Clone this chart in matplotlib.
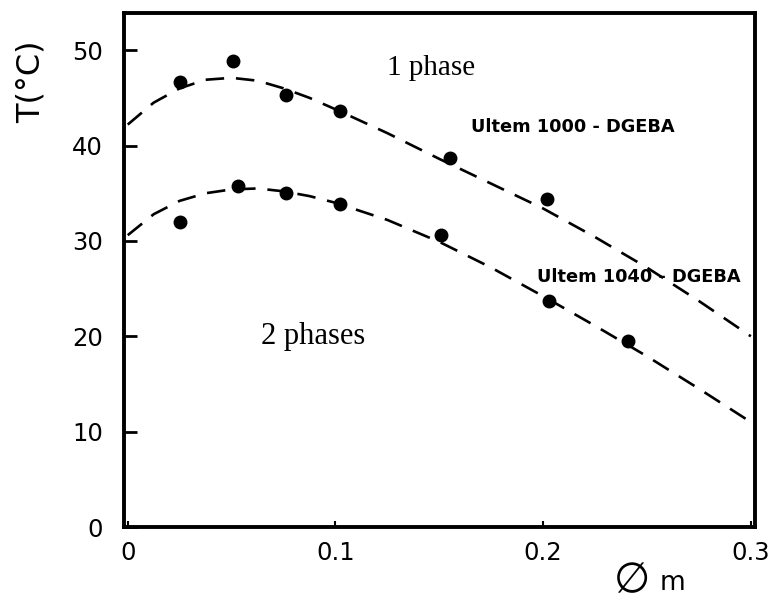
import numpy as np
import matplotlib.pyplot as plt

# measured points
phi_1000 = [0.025, 0.0505, 0.076, 0.102, 0.155, 0.202]
T_1000 = [46.7, 48.9, 45.3, 43.6, 38.7, 34.4]
phi_1040 = [0.025, 0.053, 0.076, 0.102, 0.151, 0.203, 0.241]
T_1040 = [32.0, 35.8, 35.0, 33.9, 30.6, 23.7, 19.5]

# dashed fit curves
phi_fit = [0.0, 0.0125, 0.025, 0.0375, 0.05, 0.0625, 0.075, 0.0875, 0.1,
           0.125, 0.15, 0.175, 0.2, 0.225, 0.25, 0.275, 0.3]
T_fit_1000 = [42.2, 44.5, 46.0, 46.9, 47.1, 46.8, 46.0, 45.0, 43.8,
              41.3, 38.6, 36.0, 33.4, 30.4, 27.2, 23.7, 20.0]
T_fit_1040 = [30.6, 32.8, 34.2, 35.0, 35.4, 35.5, 35.2, 34.7, 34.0,
              32.2, 29.9, 27.2, 24.2, 21.1, 17.9, 14.5, 11.0]

fig = plt.figure(figsize=(7.77, 6.01), dpi=100)
ax = fig.add_axes([0.1596, 0.1231, 0.8121, 0.8553])

dash = (0, (7, 4.5))
ax.plot(phi_fit, T_fit_1000, color='black', lw=1.9, linestyle=dash)
ax.plot(phi_fit, T_fit_1040, color='black', lw=1.9, linestyle=dash)
ax.plot(phi_1000, T_1000, 'o', color='black', ms=9)
ax.plot(phi_1040, T_1040, 'o', color='black', ms=9)

ax.set_xlim(-0.0018, 0.302)
ax.set_ylim(0, 53.9)
ax.set_xticks([0, 0.1, 0.2, 0.3])
ax.set_xticklabels(['0', '0.1', '0.2', '0.3'])
ax.set_yticks([0, 10, 20, 30, 40, 50])

for s in ax.spines.values():
    s.set_linewidth(2.8)

ax.tick_params(axis='y', direction='in', length=9, width=2, pad=15,
               labelsize=17.5, right=False)
ax.tick_params(axis='x', direction='in', length=4, width=1.5, pad=10,
               labelsize=17.5, top=False)
for lab in ax.get_xticklabels() + ax.get_yticklabels():
    lab.set_family('DejaVu Sans')

ax.text(0.146, 48.1, '1 phase', family='Liberation Serif', fontsize=21,
        ha='center', va='center')
ax.text(0.0894, 20.0, '2 phases', family='Liberation Serif', fontsize=22,
        ha='center', va='center')
ax.text(0.1654, 41.9, 'Ultem 1000 - DGEBA', family='DejaVu Sans',
        fontsize=12.8, weight='bold', ha='left', va='center')
ax.text(0.197, 26.2, 'Ultem 1040 - DGEBA', family='DejaVu Sans',
        fontsize=12.8, weight='bold', ha='left', va='center')

fig.text(31 / 777, 1 - 82 / 601, 'T(°C)', family='DejaVu Sans',
         fontsize=23, rotation=90, ha='center', va='center')
fig.text(632 / 777, 1 - 580 / 601, '∅', family=['DejaVu Sans'],
         fontsize=30, ha='center', va='center')
fig.text(673 / 777, 1 - 583 / 601, 'm', family='DejaVu Sans',
         fontsize=19, ha='center', va='center')

fig.savefig('out.png', dpi=100)
